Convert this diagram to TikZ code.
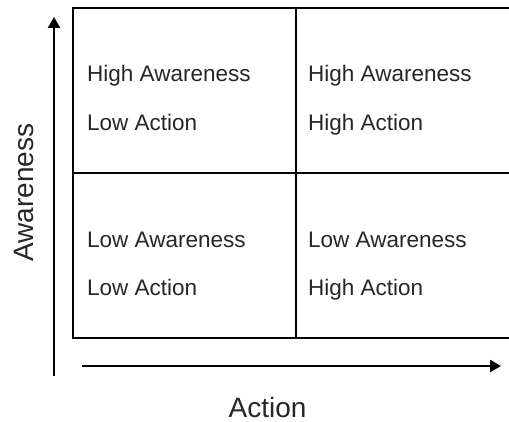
\documentclass[tikz,border=0pt]{standalone}
\usepackage{fontspec}
\setmainfont{Liberation Sans}
\usetikzlibrary{arrows.meta}
\begin{document}
\begin{tikzpicture}[x=1pt,y=1pt,
  cell/.style={anchor=base west,inner sep=0pt,font=\fontsize{22.5}{27}\selectfont,text=black!85},
  axislabel/.style={anchor=base,inner sep=0pt,font=\fontsize{28}{34}\selectfont,text=black!85},
  axisarrow/.style={line width=2.4pt,-{Triangle[length=11pt,width=12pt]}},
  grid/.style={line width=1.8pt}]
\useasboundingbox (0,0) rectangle (509,421);
% matrix box
\draw[line width=1.1pt] (73,83) rectangle (519,413);
\draw[grid] (73,413) -- (519,413);
\draw[grid] (296,83) -- (296,413);
\draw[grid] (73,248) -- (519,248);
% cell texts
\node[cell] (hal1) at (87,339) {High Awareness};
\node[cell] (hal2) at (87,290) {Low Action};
\node[cell] (hah1) at (308,339) {High Awareness};
\node[cell] (hah2) at (308,290) {High Action};
\node[cell] (lal1) at (87,174) {Low Awareness};
\node[cell] (lal2) at (87,125) {Low Action};
\node[cell] (lah1) at (308,174) {Low Awareness};
\node[cell] (lah2) at (308,125) {High Action};
% axes
\coordinate (vs) at (54,45);
\coordinate (ve) at (54,404);
\coordinate (hs) at (82,55);
\coordinate (he) at (501,55);
\draw[axisarrow] (vs) -- (ve);
\draw[axisarrow] (hs) -- (he);
\node[axislabel] (xlab) at (267.5,4) {Action};
\node[axislabel,rotate=90] (ylab) at (34,228.5) {Awareness};
\end{tikzpicture}
\end{document}
